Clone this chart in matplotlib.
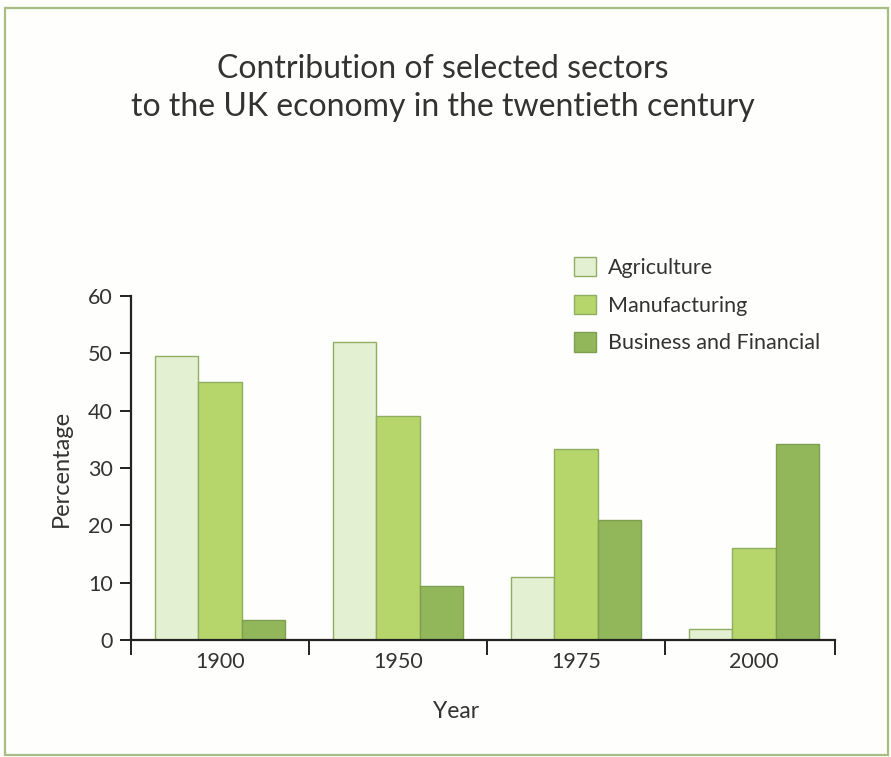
import matplotlib
matplotlib.use('Agg')
import matplotlib.pyplot as plt
import numpy as np
from matplotlib.patches import Rectangle

# --- data ---
years = ['1900', '1950', '1975', '2000']
sectors = ['Agriculture', 'Manufacturing', 'Business and Financial']
agriculture = [49.5, 52, 11, 2]
manufacturing = [45, 39, 33.3, 16]
business = [3.5, 9.5, 21, 34.2]
yticks = [0, 10, 20, 30, 40, 50, 60]

colors = ['#e4f0d2', '#b6d66c', '#92b75a']
edges = ['#8fae62', '#8fae62', '#7e9f50']

plt.rcParams['font.family'] = ['Lato', 'DejaVu Sans']

fig = plt.figure(figsize=(8.91, 7.57), dpi=100)
fig.patch.set_facecolor('#fefefc')

# green frame round the whole figure
fig.add_artist(Rectangle((5 / 891, 2 / 757), 883 / 891, 747 / 757,
                         transform=fig.transFigure, fill=False,
                         edgecolor='#a6be84', linewidth=1.6))

ax = fig.add_axes([131 / 891, 1 - 640 / 757, (835 - 131) / 891, (640 - 296) / 757])
ax.set_facecolor('none')

x = np.arange(len(years))
w = 0.242
for i, (vals, label) in enumerate(zip([agriculture, manufacturing, business], sectors)):
    ax.bar(x + (i - 1) * w, vals, width=w, color=colors[i], edgecolor=edges[i],
           linewidth=1.0, label=label, zorder=2)

ax.set_ylim(0, 60)
ax.set_xlim(-0.5, 3.455)
ax.set_yticks(yticks)
ax.set_yticklabels([str(v) for v in yticks], fontsize=15.5, color='#333333')

# year labels centred under groups, ticks at group boundaries
ax.set_xticks([-0.5, 0.5, 1.5, 2.5, 3.455])
ax.set_xticklabels([])
ax.set_xticks(x, minor=True)
ax.set_xticklabels(years, minor=True, fontsize=15.5, color='#333333')
ax.tick_params(axis='x', which='minor', length=0, pad=9)
ax.tick_params(axis='x', which='major', direction='out', length=11, width=1.4, color='#222222')
ax.tick_params(axis='y', direction='out', length=8, width=1.4, color='#222222', pad=5)

for s in ['top', 'right']:
    ax.spines[s].set_visible(False)
for s in ['left', 'bottom']:
    ax.spines[s].set_linewidth(1.6)
    ax.spines[s].set_color('#222222')

ax.set_ylabel('Percentage', fontsize=17, color='#333333', labelpad=12)
fig.text(456 / 891, 1 - 712 / 757, 'Year', ha='center', va='center',
         fontsize=16.5, color='#333333')

fig.text(443 / 891, 1 - 88 / 757,
         'Contribution of selected sectors\nto the UK economy in the twentieth century',
         ha='center', va='center', fontsize=23, color='#333333', linespacing=1.35)

leg = ax.legend(loc='upper left', bbox_to_anchor=((555 - 131) / (835 - 131), 1.17),
                frameon=False, fontsize=15.5, handlelength=1.0, handleheight=1.0,
                labelspacing=0.78, handletextpad=0.55)
for t in leg.get_texts():
    t.set_color('#333333')

plt.savefig('out.png', dpi=100, facecolor=fig.get_facecolor())
plt.close()
